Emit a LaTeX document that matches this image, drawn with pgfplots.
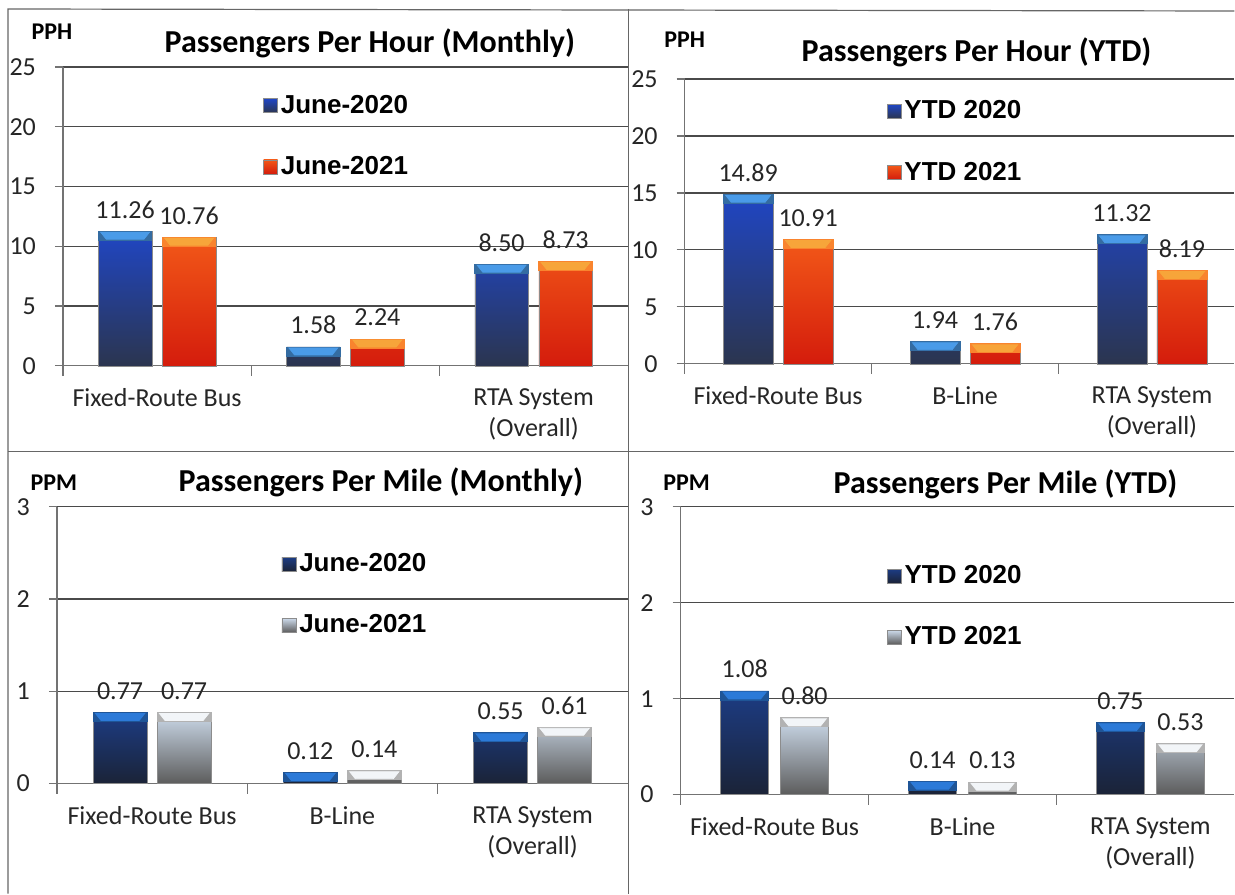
\documentclass[border=0pt]{standalone}
\usepackage{fontspec}
\setmainfont{Carlito}
\newfontfamily\legf{Liberation Sans}
\usepackage{pgfplots}
\usepackage{pgfplotstable}
\pgfplotsset{compat=1.18}

\newcommand{\tk}{\fontsize{13}{15.5}\selectfont}
\newcommand{\legfont}{\legf\fontsize{13}{15}\selectfont\bfseries}

\definecolor{bluTop}{HTML}{2046C4}
\definecolor{bluBot}{HTML}{2B354F}
\definecolor{bluCap}{HTML}{4A9BE8}
\definecolor{oraTop}{HTML}{F25818}
\definecolor{oraBot}{HTML}{D41C0C}
\definecolor{oraCap}{HTML}{F7A53A}
\definecolor{navTop}{HTML}{1C3C84}
\definecolor{navBot}{HTML}{1B2337}
\definecolor{navCap}{HTML}{2C7AD8}
\definecolor{gryTop}{HTML}{CCDAEA}
\definecolor{gryBot}{HTML}{5C5C5C}
\definecolor{gryCap}{HTML}{F2F5F8}
\definecolor{gridc}{HTML}{4A4A4A}

% bevelled top of each bar, drawn as a mark at the bar top
\pgfdeclareplotmark{capBlu}{\fill[bluCap!70!black] (-\bw,0pt) rectangle (\bw,-4.5pt);
  \fill[bluCap] (-\bw+1.2pt,-0.5pt) -- (\bw-1.2pt,-0.5pt) -- (\bw-4pt,-4pt) -- (-\bw+4pt,-4pt) -- cycle;}
\pgfdeclareplotmark{capOra}{\fill[oraCap!80!red] (-\bw,0pt) rectangle (\bw,-4.5pt);
  \fill[oraCap] (-\bw+1.2pt,-0.5pt) -- (\bw-1.2pt,-0.5pt) -- (\bw-4pt,-4pt) -- (-\bw+4pt,-4pt) -- cycle;}
\pgfdeclareplotmark{capNav}{\fill[navCap!70!black] (-\bw,0pt) rectangle (\bw,-4.5pt);
  \fill[navCap] (-\bw+1.2pt,-0.5pt) -- (\bw-1.2pt,-0.5pt) -- (\bw-4pt,-4pt) -- (-\bw+4pt,-4pt) -- cycle;}
\pgfdeclareplotmark{capGry}{\fill[gray!60] (-\bw,0pt) rectangle (\bw,-4.5pt);
  \fill[gryCap] (-\bw+1.2pt,-0.5pt) -- (\bw-1.2pt,-0.5pt) -- (\bw-4pt,-4pt) -- (-\bw+4pt,-4pt) -- cycle;}

\pgfplotstableread{
x a b
0 11.26 10.76
1 1.58 2.24
2 8.50 8.73
}\pphMon
\pgfplotstableread{
x a b
0 14.89 10.91
1 1.94 1.76
2 11.32 8.19
}\pphYtd
\pgfplotstableread{
x a b
0 0.77 0.77
1 0.12 0.14
2 0.55 0.61
}\ppmMon
\pgfplotstableread{
x a b
0 1.08 0.80
1 0.14 0.13
2 0.75 0.53
}\ppmYtd

\pgfplotsset{
  pan/.style={
    scale only axis, xmin=-0.5, ymin=0,
    axis x line*=bottom, axis y line*=left,
    axis line style={black!55, line width=0.6pt},
    xtick={0,1,2}, major x tick style={draw=none},
    minor xtick={-0.5,0.5,1.5},
    ymajorgrids, grid style={gridc, line width=0.6pt},
    tick align=outside, major tick length=4pt, minor tick length=5pt,
    tick style={black!55, line width=0.6pt},
    ticklabel style={font=\tk, text=black!85},
    xticklabel style={align=center, yshift=-4pt},
    yticklabel style={xshift=-6pt},
    /pgf/number format/assume math mode=true,
    legend style={draw=none, fill=none, font=\legfont, row sep=17pt, inner sep=0pt,
      nodes={inner sep=1.5pt}},
    legend cell align=left,
    clip=false,
  },
  vals/.style={nodes near coords={\pgfmathprintnumber[fixed,fixed zerofill,precision=2]{\pgfplotspointmeta}},
    nodes near coords style={font=\tk, text=black!85, anchor=south, yshift=3pt, xshift=#1}},
  sq/.style 2 args={legend image code/.code={\draw[top color=#1, bottom color=#2, draw=black!45, line width=0.3pt] (0pt,-3.5pt) rectangle (7pt,3.5pt);}},
}

\begin{document}
\begin{tikzpicture}
\begin{scope}[x=0.5pt,y=-0.5pt]
\useasboundingbox (0,0) rectangle (1235,894);
\end{scope}

% ---- top left: passengers per hour, monthly
\def\bw{13.4pt}
\begin{axis}[pan, at={(31.5pt,-183pt)}, anchor=south west,
  width=282.5pt, height=149.5pt, xmax=2.5, ymax=25, ytick={0,5,...,25},
  xticklabels={Fixed-Route Bus,,{RTA System\\(Overall)}},
  legend style={at={(0.354,0.768)}, anchor=west}]
\addplot[ybar, bar width=26.75pt, bar shift=-16pt, top color=bluTop, bottom color=bluBot,
  draw=black!45, line width=0.3pt, vals=-16pt, sq={bluTop}{bluBot}] table[x=x,y=a]{\pphMon};
\addlegendentry{June-2020}
\addplot[ybar, bar width=26.75pt, bar shift=16pt, top color=oraTop, bottom color=oraBot,
  draw=black!45, line width=0.3pt, vals=16pt, sq={oraTop}{oraBot}] table[x=x,y=b]{\pphMon};
\addlegendentry{June-2021}
\addplot[only marks, mark=capBlu, xshift=-16pt, forget plot] table[x=x,y=a]{\pphMon};
\addplot[only marks, mark=capOra, xshift=16pt, forget plot] table[x=x,y=b]{\pphMon};
\end{axis}

% ---- top right: passengers per hour, YTD
\def\bw{12.5pt}
\begin{axis}[pan, at={(342.5pt,-182pt)}, anchor=south west,
  width=275pt, height=142.5pt, xmax=2.441, ymax=25, ytick={0,5,...,25},
  xticklabels={Fixed-Route Bus,B-Line,{RTA System\\(Overall)}},
  legend style={at={(0.367,0.779)}, anchor=west}]
\addplot[ybar, bar width=25pt, bar shift=-15pt, top color=bluTop, bottom color=bluBot,
  draw=black!45, line width=0.3pt, vals=-15pt, sq={bluTop}{bluBot}] table[x=x,y=a]{\pphYtd};
\addlegendentry{YTD 2020}
\addplot[ybar, bar width=25pt, bar shift=15pt, top color=oraTop, bottom color=oraBot,
  draw=black!45, line width=0.3pt, vals=15pt, sq={oraTop}{oraBot}] table[x=x,y=b]{\pphYtd};
\addlegendentry{YTD 2021}
\addplot[only marks, mark=capBlu, xshift=-15pt, forget plot] table[x=x,y=a]{\pphYtd};
\addplot[only marks, mark=capOra, xshift=15pt, forget plot] table[x=x,y=b]{\pphYtd};
\end{axis}

% ---- bottom left: passengers per mile, monthly
\def\bw{13.5pt}
\begin{axis}[pan, at={(28.5pt,-392pt)}, anchor=south west,
  width=285.5pt, height=138.5pt, xmax=2.5, ymax=3, ytick={0,1,2,3},
  xticklabels={Fixed-Route Bus,B-Line,{RTA System\\(Overall)}},
  legend style={at={(0.393,0.682)}, anchor=west}]
\addplot[ybar, bar width=27pt, bar shift=-16pt, top color=navTop, bottom color=navBot,
  draw=black!45, line width=0.3pt, vals=-16pt, sq={navTop}{navBot}] table[x=x,y=a]{\ppmMon};
\addlegendentry{June-2020}
\addplot[ybar, bar width=27pt, bar shift=16pt, top color=gryTop, bottom color=gryBot,
  draw=black!45, line width=0.3pt, vals=16pt, sq={gryTop}{gryBot}] table[x=x,y=b]{\ppmMon};
\addlegendentry{June-2021}
\addplot[only marks, mark=capNav, xshift=-16pt, forget plot] table[x=x,y=a]{\ppmMon};
\addplot[only marks, mark=capGry, xshift=16pt, forget plot] table[x=x,y=b]{\ppmMon};
\end{axis}

% ---- bottom right: passengers per mile, YTD
\def\bw{12pt}
\begin{axis}[pan, at={(340.5pt,-397.5pt)}, anchor=south west,
  width=277pt, height=144pt, xmax=2.447, ymax=3, ytick={0,1,2,3},
  xticklabels={Fixed-Route Bus,B-Line,{RTA System\\(Overall)}},
  legend style={at={(0.372,0.653)}, anchor=west}]
\addplot[ybar, bar width=24pt, bar shift=-15pt, top color=navTop, bottom color=navBot,
  draw=black!45, line width=0.3pt, vals=-15pt, sq={navTop}{navBot}] table[x=x,y=a]{\ppmYtd};
\addlegendentry{YTD 2020}
\addplot[ybar, bar width=24pt, bar shift=15pt, top color=gryTop, bottom color=gryBot,
  draw=black!45, line width=0.3pt, vals=15pt, sq={gryTop}{gryBot}] table[x=x,y=b]{\ppmYtd};
\addlegendentry{YTD 2021}
\addplot[only marks, mark=capNav, xshift=-15pt, forget plot] table[x=x,y=a]{\ppmYtd};
\addplot[only marks, mark=capGry, xshift=15pt, forget plot] table[x=x,y=b]{\ppmYtd};
\end{axis}

% ---- frame, dividers, titles
\begin{scope}[x=0.5pt,y=-0.5pt]
\draw[black!60, line width=0.6pt] (8,894) -- (8,9) -- (1235,11);
\draw[black!60, line width=0.6pt] (629,9) -- (629,894);
\draw[black!60, line width=0.6pt] (8,452) -- (1235,452);
\tikzset{ttl/.style={font=\bfseries\fontsize{16}{18}\selectfont, text=black},
         unit/.style={font=\bfseries\fontsize{12}{14}\selectfont, text=black}}
\node[ttl] at (370,43) {Passengers Per Hour (Monthly)};
\node[ttl] at (977,52) {Passengers Per Hour (YTD)};
\node[ttl] at (381,483) {Passengers Per Mile (Monthly)};
\node[ttl] at (1006,485) {Passengers Per Mile (YTD)};
\node[unit] at (52,32) {PPH};
\node[unit] at (685,40) {PPH};
\node[unit] at (54,483) {PPM};
\node[unit] at (687,483) {PPM};
\end{scope}
\end{tikzpicture}
\end{document}
